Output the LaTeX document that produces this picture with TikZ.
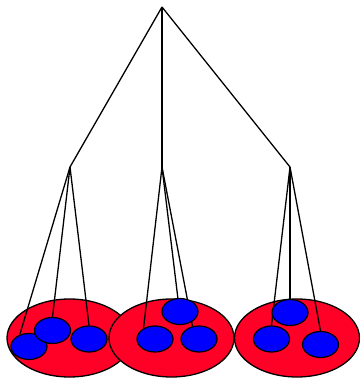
\documentclass[tikz,border=0pt]{standalone}
\usepackage{xcolor}
\definecolor{podred}{HTML}{FF0026}
\definecolor{seedblue}{HTML}{0000FF}
\usepackage{tikz}
\usetikzlibrary{shapes.geometric,backgrounds}

\begin{document}
\begin{tikzpicture}[x=1pt,y=-1pt,
  pod/.style={ellipse,draw=black,fill=podred,line width=1.3pt,inner sep=0pt,minimum width=125pt,minimum height=78pt},
  seed/.style={ellipse,draw=black,fill=seedblue,line width=1.2pt,inner sep=0pt,minimum width=36pt,minimum height=26pt},
  stem/.style={draw=black,line width=1.3pt}]
\useasboundingbox (0,0) rectangle (359,379);
% branch points
\coordinate (top) at (162,7);
\coordinate (bl) at (70,167);
\coordinate (bm) at (162,167);
\coordinate (br) at (290,167);
% seeds
\node[seed] (a) at (29,346.5) {};
\node[seed] (b) at (52.5,330.5) {};
\node[seed] (c) at (89,339) {};
\node[seed] (f) at (199,339) {};
\node[seed] (d) at (155,339) {};
\node[seed] (e) at (180,311.5) {};
\node[seed] (g) at (290,312.5) {};
\node[seed] (h) at (271.5,339) {};
\node[seed] (i) at (320.5,344.5) {};
% pods and stems go under the seeds
\begin{pgfonlayer}{background}
\node[pod] (pl) at (69.5,338) {};
\node[pod] (pm) at (171.5,338) {};
\node[pod] (pr) at (297,338) {};
\draw[stem] (top)--(bl); \draw[stem] (top)--(bm); \draw[stem] (top)--(br);
\draw[stem] (bl)--(a.128); \draw[stem] (bl)--(b.north); \draw[stem] (bl)--(c.north);
\draw[stem] (bm)--(d.137); \draw[stem] (bm)--(e.99); \draw[stem] (bm)--(f.117);
\draw[stem] (br)--(g.north); \draw[stem] (br)--(h.north); \draw[stem] (br)--(i.north);
\end{pgfonlayer}
\end{tikzpicture}
\end{document}
